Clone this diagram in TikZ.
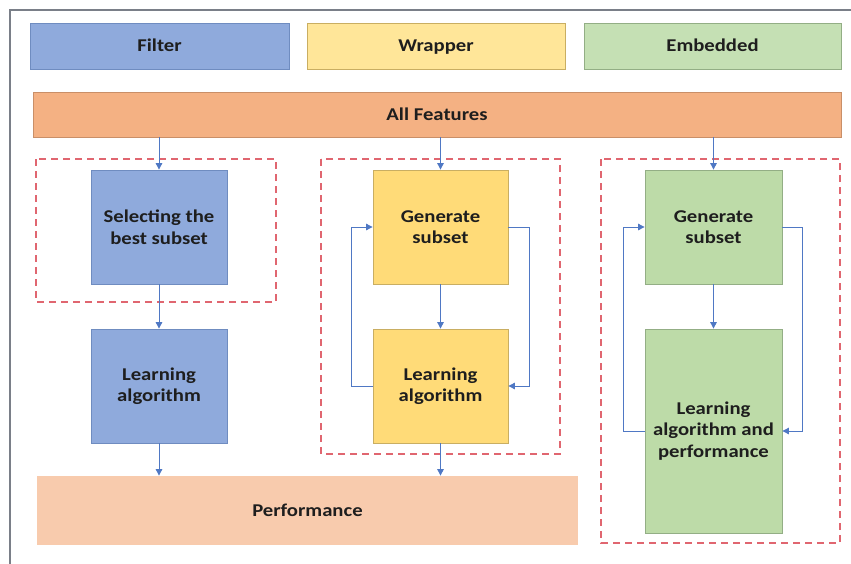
\documentclass[tikz,border=0pt]{standalone}
\usepackage{fontspec}
\setmainfont{Carlito}[FakeStretch=1.15]
\usetikzlibrary{arrows.meta}
\definecolor{blueF}{HTML}{8FAADC}
\definecolor{blueB}{HTML}{6F8CC0}
\definecolor{yelH}{HTML}{FFE699}
\definecolor{yelF}{HTML}{FFDB78}
\definecolor{yelB}{HTML}{C9AE62}
\definecolor{grnH}{HTML}{C5E0B4}
\definecolor{grnF}{HTML}{BDDBA8}
\definecolor{grnB}{HTML}{93AE85}
\definecolor{orgF}{HTML}{F4B183}
\definecolor{orgB}{HTML}{C98F68}
\definecolor{perfF}{HTML}{F8CBAD}
\definecolor{dashR}{HTML}{E06670}
\definecolor{arrB}{HTML}{4F78C4}
\definecolor{txt}{HTML}{1E1E1E}
\definecolor{frameC}{HTML}{7A7F88}
\begin{document}
\begin{tikzpicture}[x=1pt,y=-1pt,
  box/.style={draw, line width=0.8pt, align=center, inner sep=0pt,
    font=\fontsize{18}{21.5}\selectfont\bfseries, text=txt},
  hdr/.style={box, minimum height=46pt, text height=13pt, text depth=1.4pt},
  grp/.style={draw=dashR, line width=1.4pt, dash pattern=on 7pt off 5pt},
  arr/.style={draw=arrB, line width=0.9pt, -{Triangle[length=6.5pt,width=6.5pt]}}
]
\useasboundingbox (0,0) rectangle (851,563);
\draw[frameC, line width=1.6pt] (10,10) rectangle (870,580);

% header
\node[hdr, fill=blueF, draw=blueB, minimum width=259pt] (filter) at (159.5,46) {Filter};
\node[hdr, fill=yelH, draw=yelB, minimum width=258pt] (wrapper) at (436,46) {Wrapper};
\node[hdr, fill=grnH, draw=grnB, minimum width=257pt] (embedded) at (712.5,46) {Embedded};
\node[hdr, fill=orgF, draw=orgB, minimum width=808pt, minimum height=45pt] (allf) at (437,114.5) {All Features};

% dashed groups
\draw[grp] (36,159) rectangle (276,302);
\draw[grp] (321,159) rectangle (560,454);
\draw[grp] (601,159) rectangle (840,543);

% filter column
\node[box, fill=blueF, draw=blueB, minimum width=136pt, minimum height=114pt] (sel) at (159,227) {Selecting the\\best subset};
\node[box, fill=blueF, draw=blueB, minimum width=136pt, minimum height=114pt] (learnA) at (159,386) {Learning\\algorithm};

% wrapper column
\node[box, fill=yelF, draw=yelB, minimum width=135pt, minimum height=114pt] (genB) at (440.5,227) {Generate\\subset};
\node[box, fill=yelF, draw=yelB, minimum width=135pt, minimum height=114pt] (learnB) at (440.5,386) {Learning\\algorithm};

% embedded column
\node[box, fill=grnF, draw=grnB, minimum width=137pt, minimum height=114pt] (genC) at (713.5,227) {Generate\\subset};
\node[box, fill=grnF, draw=grnB, minimum width=137pt, minimum height=204pt] (learnC) at (713.5,431) {Learning\\algorithm and\\performance};

% performance
\node[hdr, draw=none, fill=perfF, minimum width=541pt, minimum height=69pt] (perf) at (307.5,510.5) {Performance};

% arrows
\draw[arr] (allf.south -| sel.north) -- (sel.north);
\draw[arr] (allf.south -| genB.north) -- (genB.north);
\draw[arr] (allf.south -| genC.north) -- (genC.north);
\draw[arr] (sel.south) -- (learnA.north);
\draw[arr] (learnA.south) -- (learnA.south |- perf.north);
\draw[arr] (genB.south) -- (learnB.north);
\draw[arr] (learnB.south) -- (learnB.south |- perf.north);
\draw[arr] (genC.south) -- (genC.south |- learnC.north);
\draw[arr] (learnB.west) -- ++(-21,0) |- (genB.west);
\draw[arr] (genB.east) -- ++(21,0) |- (learnB.east);
\draw[arr] (learnC.west) -- ++(-21,0) |- (genC.west);
\draw[arr] (genC.east) -- ++(20,0) |- (learnC.east);
\end{tikzpicture}
\end{document}
